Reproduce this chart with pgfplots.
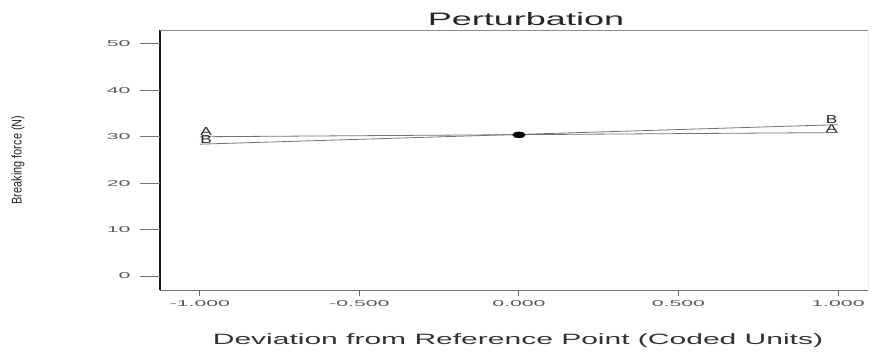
\documentclass[border=0pt]{standalone}
\usepackage{pgfplots}
\pgfplotsset{compat=1.18}
\usepackage{fontspec}
\setmainfont{Liberation Sans}
\begin{document}
\begin{tikzpicture}
\useasboundingbox (-160pt,-64pt) rectangle (715pt,290pt);
\begin{axis}[
  at={(0pt,0pt)}, anchor=south west,
  scale only axis, width=708pt, height=260pt,
  xmin=-1.125, xmax=1.094, ymin=-3.02, ymax=53.0,
  axis x line*=bottom, axis y line*=left,
  x axis line style={black!55, line width=0.9pt},
  y axis line style={black!90, line width=1.3pt},
  xtick={-1,-0.5,0,0.5,1},
  xticklabels={-1.000,-0.500,0.000,0.500,1.000},
  ytick={0,10,20,30,40,50},
  yticklabels={0,10,20,30,40,50},
  tick align=outside, major tick length=6pt,
  xtick style={black!60, line width=0.9pt},
  ytick style={draw=none},
  tick label style={font=\fontsize{8.5}{9}\selectfont, text=black!65},
  xticklabel style={anchor=north, inner sep=0pt, yshift=-4pt, xscale=2.5},
  yticklabel style={anchor=east, inner sep=0pt, xshift=-23pt, xscale=2.5},
  title={Perturbation},
  title style={at={(axis description cs:0.5,1)}, anchor=base, yshift=-2pt, xshift=12pt,
    font=\fontsize{18}{20}\selectfont, text=black!85, xscale=2.0, inner sep=0pt},
  xlabel={Deviation from Reference Point (Coded Units)},
  xlabel style={at={(axis description cs:0.5,0)}, anchor=base, yshift=-54pt, xshift=4pt,
    font=\fontsize{15}{17}\selectfont, text=black!80, xscale=2.0, inner sep=0pt},
  ylabel={Breaking force (N)},
  ylabel style={at={(axis description cs:0,0.5)}, anchor=center, yshift=142pt,
    font=\fontsize{14}{15}\selectfont, text=black!85, inner sep=0pt, xscale=0.78},
  clip=false,
]
\draw[black!45, line width=0.9pt] (rel axis cs:0,1) -- (rel axis cs:1,1);
\draw[black!8, line width=0.6pt] (rel axis cs:1,0) -- (rel axis cs:1,1);
\draw[black!55, line width=0.9pt] (axis cs:-1.125,0) -- ([xshift=-20pt]axis cs:-1.125,0);
\draw[black!55, line width=0.9pt] (axis cs:-1.125,10) -- ([xshift=-20pt]axis cs:-1.125,10);
\draw[black!55, line width=0.9pt] (axis cs:-1.125,20) -- ([xshift=-20pt]axis cs:-1.125,20);
\draw[black!55, line width=0.9pt] (axis cs:-1.125,30) -- ([xshift=-20pt]axis cs:-1.125,30);
\draw[black!55, line width=0.9pt] (axis cs:-1.125,40) -- ([xshift=-20pt]axis cs:-1.125,40);
\draw[black!55, line width=0.9pt] (axis cs:-1.125,50) -- ([xshift=-20pt]axis cs:-1.125,50);
\addplot[black!55, line width=0.8pt] coordinates {(-1,30.0) (0,30.45) (1,30.9)}
  node[pos=0, anchor=south west, inner sep=0pt, yshift=1pt, font=\fontsize{11.5}{12}\selectfont, text=black!85, xscale=1.5] {A}
  node[pos=1, anchor=south east, inner sep=0pt, font=\fontsize{11.5}{12}\selectfont, text=black!85, xscale=1.5] {A};
\addplot[black!55, line width=0.8pt] coordinates {(-1,28.4) (0,30.5) (1,32.6)}
  node[pos=0, anchor=south west, inner sep=0pt, font=\fontsize{11.5}{12}\selectfont, text=black!85, xscale=1.5] {B}
  node[pos=1, anchor=south east, inner sep=0pt, yshift=1pt, font=\fontsize{11.5}{12}\selectfont, text=black!85, xscale=1.5] {B};
\addplot[only marks, mark=*, mark size=3pt, mark options={xscale=2.1, fill=black, draw=black}] coordinates {(0,30.4)};
\end{axis}
\end{tikzpicture}
\end{document}
